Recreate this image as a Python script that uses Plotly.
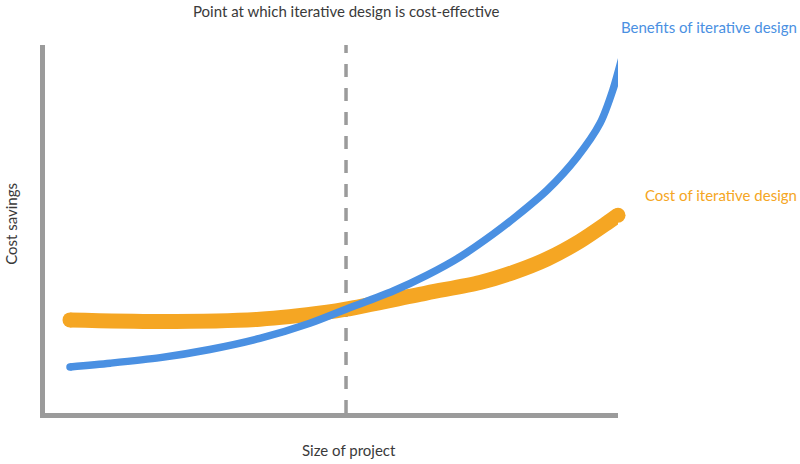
import plotly.graph_objects as go

# project size (0-100) and savings (0-100)
size_benefit = [4.7, 11.7, 20.4, 29.0, 37.7, 46.4, 52.7, 60.9, 66.8, 72.5, 78.3, 82.4, 87.7, 92.9, 96.9, 99.1, 100.9]
benefit = [13.0, 14.0, 15.5, 17.7, 20.7, 24.8, 28.6, 33.5, 37.8, 42.7, 48.9, 53.8, 60.8, 69.7, 78.9, 87.8, 97.8]

size_cost = [4.7, 20.4, 37.7, 49.4, 52.7, 66.8, 76.0, 81.7, 87.7, 93.4, 98.1, 100.0]
cost = [25.7, 25.3, 25.9, 27.8, 28.6, 33.0, 35.8, 38.5, 42.2, 47.0, 51.9, 54.0]

breakeven = 52.7

title = "Point at which iterative design is cost-effective"
x_title = "Size of project"
y_title = "Cost savings"
benefit_label = "Benefits of iterative design"
cost_label = "Cost of iterative design"

BLUE = "#4a90e2"
ORANGE = "#f5a623"
GREY = "#9b9b9b"
TEXT = "#3a3a3a"
FONT = "Lato"

fig = go.Figure()

fig.add_trace(go.Scatter(
    x=size_cost, y=cost, mode="lines",
    line=dict(color=ORANGE, width=15, shape="spline", smoothing=0.8),
    cliponaxis=False, hoverinfo="skip"))
# round ends
fig.add_trace(go.Scatter(
    x=[size_cost[0], size_cost[-1]], y=[cost[0], cost[-1]], mode="markers",
    marker=dict(color=ORANGE, size=15, line_width=0),
    cliponaxis=False, hoverinfo="skip"))

fig.add_trace(go.Scatter(
    x=size_benefit, y=benefit, mode="lines",
    line=dict(color=BLUE, width=7.5, shape="spline", smoothing=0.8),
    cliponaxis=False, hoverinfo="skip"))
fig.add_trace(go.Scatter(
    x=[size_benefit[0], size_benefit[-1]], y=[benefit[0], benefit[-1]], mode="markers",
    marker=dict(color=BLUE, size=7.5, line_width=0),
    cliponaxis=False, hoverinfo="skip"))

# dashed break-even line
fig.add_shape(type="line", xref="x", yref="paper", x0=breakeven, x1=breakeven, y0=0, y1=1,
              line=dict(color=GREY, width=3.5, dash="13px,11px"), layer="below")

fig.update_xaxes(range=[0.35, 100], showgrid=False, zeroline=False, showticklabels=False,
                 showline=True, linecolor=GREY, linewidth=5, ticks="")
fig.update_yaxes(range=[0.54, 100], showgrid=False, zeroline=False, showticklabels=False,
                 showline=True, linecolor=GREY, linewidth=5, ticks="")

fig.add_annotation(text=title, xref="paper", yref="paper", x=0.525, y=1, yshift=34,
                   xanchor="center", yanchor="middle", showarrow=False,
                   font=dict(family=FONT, size=15, color=TEXT))
fig.add_annotation(text=x_title, xref="paper", yref="paper", x=0.531, y=0, yshift=-37,
                   xanchor="center", yanchor="middle", showarrow=False,
                   font=dict(family=FONT, size=15, color=TEXT))
fig.add_annotation(text=y_title, xref="paper", yref="paper", x=0, xshift=-34, y=0.514,
                   xanchor="center", yanchor="middle", textangle=-90, showarrow=False,
                   font=dict(family=FONT, size=15, color=TEXT))
fig.add_annotation(text=benefit_label, xref="paper", yref="paper", x=1, y=1,
                   xanchor="right", yanchor="middle", xshift=181, yshift=18, showarrow=False,
                   font=dict(family=FONT, size=15, color=BLUE))
fig.add_annotation(text=cost_label, xref="paper", yref="y", x=1, y=cost[-1],
                   xanchor="right", yanchor="middle", xshift=181, yshift=20, showarrow=False,
                   font=dict(family=FONT, size=15, color=ORANGE))

fig.update_layout(
    width=800, height=464,
    margin=dict(l=45, r=182, t=45, b=51),
    plot_bgcolor="white", paper_bgcolor="white",
    showlegend=False,
)

# drop the default 8px body margin so the figure fills the window exactly
fig.write_html("out.html", config={"displayModeBar": False},
               post_script="document.body.style.margin='0';")
